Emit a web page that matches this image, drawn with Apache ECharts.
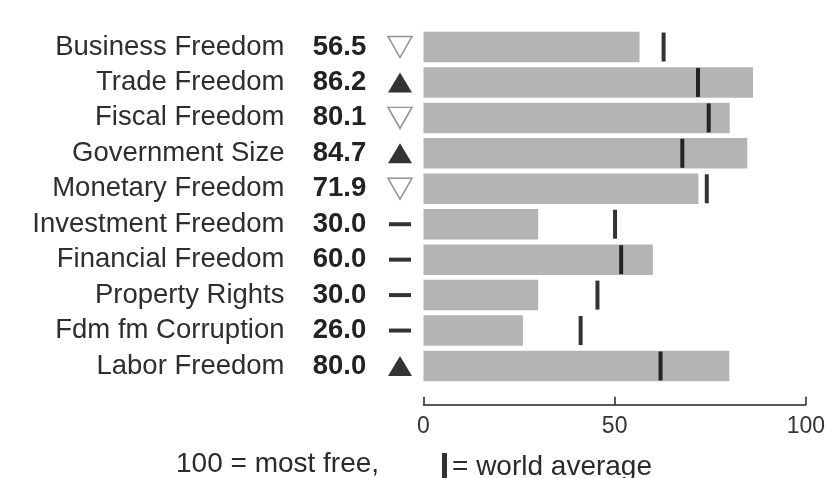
<!DOCTYPE html>
<html>
<head>
<meta charset="utf-8">
<script src="https://cdn.jsdelivr.net/npm/echarts@6/dist/echarts.min.js"></script>
<style>html,body{margin:0;padding:0;background:#fff}#c{width:828px;height:478px}</style>
</head>
<body>
<div id="c"></div>
<script>
const categories = ['Business Freedom','Trade Freedom','Fiscal Freedom','Government Size','Monetary Freedom','Investment Freedom','Financial Freedom','Property Rights','Fdm fm Corruption','Labor Freedom'];
const scores = [56.5, 86.2, 80.1, 84.7, 71.9, 30.0, 60.0, 30.0, 26.0, 80.0];
const worldAverage = [62.8, 71.8, 74.6, 67.7, 74.1, 50.1, 51.7, 45.5, 41.1, 62.0];
const changes = ['down','up','down','up','down','none','none','none','none','up'];
const xTicks = [0, 50, 100];

const FONT = 'Liberation Sans';
const chart = echarts.init(document.getElementById('c'), null, {renderer: 'canvas'});

const changeStyle = {
  up:   {symbol: 'triangle', symbolSize: [24, 20], symbolRotate: 0,   itemStyle: {color: '#000000'}},
  down: {symbol: 'triangle', symbolSize: [24, 21], symbolRotate: 180, itemStyle: {color: '#ffffff', borderColor: '#777', borderWidth: 1.5}},
  none: {symbol: 'rect',     symbolSize: [22, 4],  symbolRotate: 0,   itemStyle: {color: '#000000'}}
};

const grids = [
  {left: 423.5, right: 12, top: 29.3, bottom: 94.3, containLabel: false},
  {left: 380, width: 40, top: 29.3, bottom: 94.3, containLabel: false}
];

chart.setOption({
  animation: false,
  backgroundColor: '#ffffff',
  textStyle: {fontFamily: FONT},
  grid: grids,
  legend: {
    left: 437, top: 448,
    itemWidth: 5, itemHeight: 28, itemGap: 0,
    icon: 'rect',
    textStyle: {fontFamily: FONT, fontSize: 28, color: '#2a2a2a', padding: [0, 0, 0, 0]},
    data: ['= world average']
  },
  graphic: [{
    type: 'text', left: 176, top: 450,
    style: {text: '100 = most free,', font: '28px "Liberation Sans"', fill: '#2a2a2a'}
  }],
  xAxis: [{
    gridIndex: 0, type: 'value', min: 0, max: 100, interval: 50,
    offset: 21,
    axisLine: {show: true, lineStyle: {color: '#222', width: 1.5}},
    axisTick: {show: true, inside: true, length: 8, lineStyle: {color: '#222', width: 1.5}},
    splitLine: {show: false},
    axisLabel: {fontFamily: FONT, fontSize: 23, color: '#333', margin: 10,
      formatter: v => xTicks.includes(v) ? String(v) : ''}
  }, {
    gridIndex: 1, type: 'value', min: 0, max: 1, show: false
  }],
  yAxis: [{
    gridIndex: 0, type: 'category', inverse: true, data: categories,
    axisLine: {show: false}, axisTick: {show: false}, splitLine: {show: false},
    axisLabel: {
      margin: 56,
      formatter: (v, i) => '{n|' + v + '}{v|' + scores[i].toFixed(1) + '}',
      rich: {
        n: {fontFamily: FONT, fontSize: 27.5, color: '#2e2e2e'},
        v: {fontFamily: FONT, fontSize: 27.5, fontWeight: 'bold', color: '#222', width: 56, align: 'left', padding: [0, 0, 0, 27]}
      }
    }
  }, {
    gridIndex: 1, type: 'category', inverse: true, data: categories, show: false
  }],
  series: [{
    type: 'bar', xAxisIndex: 0, yAxisIndex: 0,
    data: scores, barCategoryGap: '14%',
    itemStyle: {color: '#b4b4b4'},
    silent: true
  }, {
    name: '= world average',
    type: 'scatter', xAxisIndex: 0, yAxisIndex: 0,
    data: worldAverage, symbol: 'rect', symbolSize: [4, 29],
    itemStyle: {color: '#000000'}, z: 5
  }, {
    type: 'scatter', xAxisIndex: 1, yAxisIndex: 1,
    data: changes.map((c, i) => Object.assign({value: [0.5, i]}, changeStyle[c])),
    z: 5
  }]
});
</script>
</body>
</html>
